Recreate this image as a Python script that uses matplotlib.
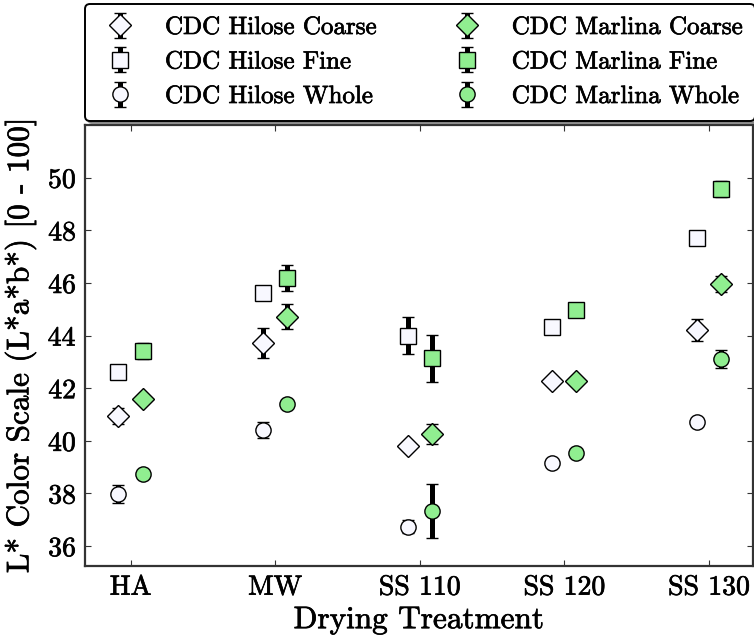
import numpy as np
import matplotlib.pyplot as plt
import matplotlib.patheffects as pe

plt.rcParams['font.family'] = 'cmr10'
plt.rcParams['mathtext.fontset'] = 'cm'
plt.rcParams['axes.formatter.use_mathtext'] = True

treatments = ['HA', 'MW', 'SS 110', 'SS 120', 'SS 130']

# L* means and standard deviations per cultivar / grind
hilose_coarse = [40.95, 43.73, 39.81, 42.27, 44.21]
hilose_coarse_sd = [0.30, 0.57, 0.12, 0.12, 0.42]
hilose_fine = [42.63, 45.61, 44.00, 44.31, 47.70]
hilose_fine_sd = [0.20, 0.20, 0.69, 0.20, 0.20]
hilose_whole = [37.97, 40.41, 36.73, 39.17, 40.73]
hilose_whole_sd = [0.33, 0.30, 0.25, 0.12, 0.12]

marlina_coarse = [41.59, 44.72, 40.26, 42.27, 45.96]
marlina_coarse_sd = [0.12, 0.46, 0.39, 0.12, 0.30]
marlina_fine = [43.41, 46.18, 43.14, 44.97, 49.56]
marlina_fine_sd = [0.32, 0.50, 0.89, 0.20, 0.30]
marlina_whole = [38.74, 41.40, 37.33, 39.52, 43.11]
marlina_whole_sd = [0.12, 0.12, 1.03, 0.12, 0.33]

x = np.arange(len(treatments))
off = 0.084

fig = plt.figure(figsize=(7.54, 6.35), dpi=100)
ax = fig.add_axes([85/754, 1-566/635, 667.7/754, 441/635])

style = dict(ls='none', mec='black', mew=1.0, ecolor='black',
             elinewidth=3.6, capsize=4.3, capthick=1.5)

series = [
    (hilose_coarse, hilose_coarse_sd, 'D', 'ghostwhite', -off, 'CDC Hilose Coarse'),
    (hilose_fine, hilose_fine_sd, 's', 'ghostwhite', -off, 'CDC Hilose Fine'),
    (hilose_whole, hilose_whole_sd, 'o', 'ghostwhite', -off, 'CDC Hilose Whole'),
    (marlina_coarse, marlina_coarse_sd, 'D', 'lightgreen', off, 'CDC Marlina Coarse'),
    (marlina_fine, marlina_fine_sd, 's', 'lightgreen', off, 'CDC Marlina Fine'),
    (marlina_whole, marlina_whole_sd, 'o', 'lightgreen', off, 'CDC Marlina Whole'),
]
for vals, sd, mk, col, dx, lab in series:
    ms = 11.2 if mk == 'D' else 11
    ax.errorbar(x + dx, vals, yerr=sd, marker=mk, mfc=col, ms=ms, label=lab,
                **style)

ax.set_xlim(-0.315, 4.303)
ax.set_ylim(35.24, 52.0)
ax.set_xticks(x)
ax.set_xticklabels(treatments)
ax.set_yticks(np.arange(36, 51, 2))
ax.tick_params(direction='in', top=True, right=True, length=4.3, width=0.8,
               labelsize=20, pad=6, color='#333333')
for s in ax.spines.values():
    s.set_color('#333333')
    s.set_linewidth(1.6)

ax.set_xlabel('Drying Treatment', fontsize=22.5, labelpad=4)
ax.set_ylabel('L* Color Scale (L*a*b*) [0 - 100]', fontsize=22.5, labelpad=8)

leg = ax.legend(ncol=2, loc='upper left',
                bbox_to_anchor=(85/754, 1-4/635),
                bbox_transform=fig.transFigure, fontsize=18, frameon=True,
                fancybox=True, shadow=True, borderaxespad=0, handlelength=1.8,
                handletextpad=0.9, labelspacing=0.48, borderpad=0.5,
                columnspacing=2.7)
leg.get_frame().set_edgecolor('black')
leg.get_frame().set_linewidth(1.4)

# slightly heavier glyphs
thick = [pe.withStroke(linewidth=0.5, foreground='black')]
texts = (ax.get_xticklabels() + ax.get_yticklabels() + leg.get_texts()
         + [ax.xaxis.label, ax.yaxis.label])
for t in texts:
    t.set_path_effects(thick)

fig.savefig('out.png', dpi=100)
